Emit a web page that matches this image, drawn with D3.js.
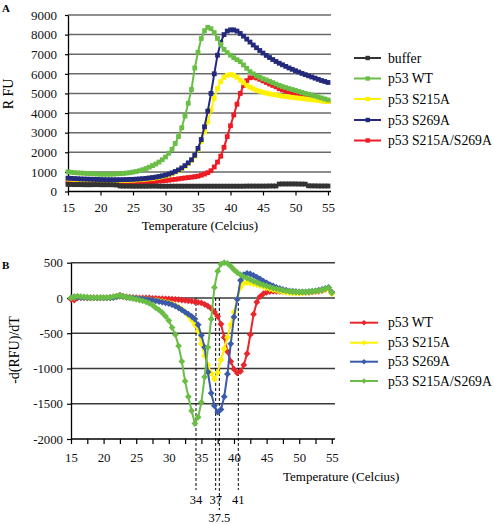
<!DOCTYPE html>
<html><head><meta charset="utf-8">
<script src="https://cdn.jsdelivr.net/npm/d3@7"></script>
<style>body{margin:0;background:#fff}svg{display:block;font-family:"Liberation Serif","Times New Roman",serif}</style>
</head><body><svg id="c" width="494" height="524"></svg>
<script>
// ---------- shared temperature categories ----------
const temps = [15,15.5,16,16.5,17,17.5,18,18.5,19,19.5,20,20.5,21,21.5,22,22.5,23,23.5,24,24.5,
25,25.5,26,26.5,27,27.5,28,28.5,29,29.5,30,30.5,31,31.5,32,32.5,33,33.5,34,34.5,
35,35.5,36,36.5,37,37.5,38,38.5,39,39.5,40,40.5,41,41.5,42,42.5,43,43.5,44,44.5,
45,45.5,46,46.5,47,47.5,48,48.5,49,49.5,50,50.5,51,51.5,52,52.5,53,53.5,54,54.5,55];

// ---------- panel A : RFU ----------
const aNames = ["buffer","p53 WT","p53 S215A","p53 S269A","p53 S215A/S269A"];
const aBuffer = [360,355,350,350,350,345,345,345,350,350,345,345,345,345,340,330,280,275,275,275,
270,270,270,270,270,275,275,275,270,270,270,270,270,270,270,270,270,270,270,270,
270,270,270,270,270,270,270,270,270,270,270,270,270,270,270,275,275,275,275,275,
275,275,280,280,280,380,385,385,385,385,385,380,380,375,290,285,285,280,280,280,280];
const aWT = [1000,980,960,950,940,930,920,910,900,890,880,880,880,880,890,900,910,920,940,960,
990,1020,1060,1110,1170,1240,1320,1400,1500,1620,1760,1950,2150,2450,2800,3250,3850,4500,5200,6300,
7100,7800,8200,8370,8300,8100,7800,7500,7250,7080,6950,6820,6720,6620,6450,6280,6110,6000,5900,5820,
5750,5690,5620,5550,5480,5410,5350,5300,5250,5200,5150,5100,5050,5000,4960,4920,4870,4820,4770,4720,4670];
const aS215A = [640,630,620,610,600,595,590,585,580,575,570,565,560,560,560,560,560,565,570,575,
580,590,600,615,630,650,670,695,725,760,800,850,910,990,1060,1160,1280,1420,1580,1800,
2150,2550,3050,3550,4150,4750,5250,5600,5820,5930,5960,5930,5820,5680,5540,5420,5320,5240,5170,5110,
5060,5020,4980,4950,4920,4890,4860,4840,4820,4800,4780,4760,4740,4720,4700,4680,4660,4640,4620,4600,4580];
const aS269A = [680,670,660,650,640,635,630,625,620,615,610,605,600,600,600,600,600,605,610,615,
620,630,640,655,670,690,710,735,765,800,840,890,950,1020,1100,1200,1320,1460,1620,1850,
2200,2650,3300,4100,5000,6000,6950,7600,8000,8180,8240,8240,8180,8060,7920,7770,7620,7470,7330,7190,
7060,6940,6830,6730,6630,6540,6460,6380,6300,6230,6160,6090,6020,5960,5900,5840,5780,5720,5660,5610,5560];
const aDouble = [470,465,460,455,450,450,445,440,440,435,435,430,430,430,430,430,430,435,440,445,
450,455,460,470,480,490,500,515,530,545,560,580,600,620,645,670,690,710,730,755,
780,830,890,960,1060,1250,1500,1800,2250,2800,3350,3900,4450,5000,5400,5650,5800,5830,5790,5720,
5640,5560,5480,5410,5340,5240,5180,5130,5080,5030,4990,4950,4900,4860,4820,4780,4740,4700,4660,4620,4590];
const aColors = ["#333333","#6abd45","#fff200","#232a7c","#ed1c24"];
const aTicksY = [0,1000,2000,3000,4000,5000,6000,7000,8000,9000];
const aTicksX = [15,20,25,30,35,40,45,50,55];

// ---------- panel B : -d(RFU)/dT ----------
const bNames = ["p53 WT","p53 S215A","p53 S269A","p53 S215A/S269A"];
const bWT = [-20,-30,0,5,5,0,0,0,0,0,0,0,5,10,20,40,25,15,10,5,
5,0,0,0,0,-5,-5,-10,-10,-12,-15,-18,-20,-25,-30,-35,-40,-45,-55,-62,
-70,-90,-115,-150,-200,-260,-370,-560,-760,-900,-1010,-1065,-1040,-950,-790,-520,-230,-60,20,60,
80,90,95,95,95,95,90,90,85,85,80,80,80,80,85,90,95,105,120,140,80];
const bS215A = [0,10,15,10,5,0,0,0,0,0,0,0,0,5,15,20,15,10,5,0,
-5,-10,-15,-20,-25,-30,-35,-40,-50,-60,-70,-85,-105,-130,-160,-200,-250,-310,-380,-470,
-650,-820,-950,-1070,-1150,-1060,-880,-720,-560,-380,-200,-20,150,210,220,210,200,190,175,160,
145,130,120,110,100,90,80,75,70,70,70,70,75,80,85,90,100,110,120,130,60];
const bS269A = [0,15,10,5,5,0,0,0,0,0,0,0,0,5,15,25,20,10,5,0,
-5,-10,-15,-20,-25,-30,-40,-50,-60,-70,-80,-95,-115,-140,-170,-200,-230,-260,-300,-380,
-530,-700,-1050,-1350,-1530,-1620,-1580,-1400,-1080,-650,-270,-20,250,330,350,340,320,295,270,240,
215,190,170,150,135,120,110,100,95,90,85,85,85,90,95,100,110,120,135,150,80];
const bDouble = [0,20,25,20,15,10,5,5,5,5,5,5,10,20,30,35,25,10,0,-10,
-20,-30,-40,-55,-75,-100,-140,-170,-210,-260,-320,-420,-520,-680,-900,-1180,-1400,-1600,-1780,-1690,
-1480,-1120,-700,-300,150,380,480,500,490,450,400,360,330,300,280,260,240,220,200,185,
170,155,140,130,120,110,100,95,90,85,85,85,85,90,95,100,105,115,130,145,75];
const bColors = ["#e8262b","#fff200","#3a5ba9","#6abd45"];
const bTicksY = [-2000,-1500,-1000,-500,0,500];
const bTicksX = [15,17.5,20,22.5,25,27.5,30,32.5,35,37.5,40,42.5,45,47.5,50,52.5,55];
const bMarkPos = [34.17,37.19,37.75,40.66];
const bMarkLabels = ["34","37","37.5","41"];

// ---------- drawing ----------
const svg = d3.select("#c");
const plain = d => String(d);

// Panel A scales
const xA = d3.scaleLinear().domain([15,55]).range([68,328]);
const yA = d3.scaleLinear().domain([0,9000]).range([191.5,15]);

const gA = svg.append("g");
gA.selectAll("line.grid").data(aTicksY.filter(d=>d>0)).join("line")
  .attr("x1",68).attr("x2",331).attr("y1",d=>yA(d)).attr("y2",d=>yA(d))
  .attr("stroke","#6a6a6a").attr("stroke-width",1.5);

const axYA = gA.append("g").attr("transform","translate(68,0)")
  .call(d3.axisLeft(yA).tickValues(aTicksY).tickFormat(plain).tickSize(3).tickSizeOuter(0).tickPadding(8));
const axXA = gA.append("g").attr("transform","translate(0,191.5)")
  .call(d3.axisBottom(xA).tickValues(aTicksX).tickFormat(plain).tickSize(4).tickSizeOuter(0).tickPadding(7));
[axYA,axXA].forEach(a=>{
  a.attr("font-family",null);
  a.select(".domain").attr("stroke","#000").attr("stroke-width",1.3);
  a.selectAll(".tick line").attr("stroke","#000").attr("stroke-width",1.2);
  a.selectAll("text").attr("font-size",13).attr("fill","#111");
});
axXA.select(".domain").attr("d","M68,0H331");

const aSeries = [aBuffer,aWT,aS215A,aS269A,aDouble];
const aOrder = [4,2,3,1,0];
const lineA = d3.line().x((d,i)=>xA(temps[i])).y(d=>yA(d));
aOrder.forEach(k=>{
  const g = gA.append("g");
  g.append("path").attr("d",lineA(aSeries[k])).attr("fill","none")
    .attr("stroke",aColors[k]).attr("stroke-width",2);
  g.selectAll("rect").data(aSeries[k]).join("rect")
    .attr("x",(d,i)=>xA(temps[i])-2.4).attr("y",d=>yA(d)-2.4)
    .attr("width",4.8).attr("height",4.8).attr("fill",aColors[k]);
});

gA.append("text").attr("x",2).attr("y",11.7).attr("font-size",11).attr("font-weight","bold").text("A");
gA.append("text").attr("transform","translate(13,94) rotate(-90)").attr("text-anchor","middle")
  .attr("font-size",14).text("R FU");
gA.append("text").attr("x",200).attr("y",230).attr("text-anchor","middle").attr("font-size",13).text("Temperature (Celcius)");

const legA = gA.append("g");
const legAY = [58,78.5,99,120,140.5];
aNames.forEach((n,k)=>{
  const y = legAY[k];
  legA.append("line").attr("x1",354).attr("x2",381).attr("y1",y).attr("y2",y)
    .attr("stroke",aColors[k]).attr("stroke-width",2);
  legA.append("rect").attr("x",365.5).attr("y",y-2.2).attr("width",4.4).attr("height",4.4).attr("fill",aColors[k]);
  legA.append("text").attr("x",388).attr("y",y+4.6).attr("font-size",13.7).text(n);
});

// Panel B scales
const xB = d3.scaleLinear().domain([15,55]).range([71,331.8]);
const yB = d3.scaleLinear().domain([-2000,500]).range([439,262.7]);
const gB = svg.append("g");
gB.selectAll("line.grid").data(bTicksY.filter(d=>d>-2000)).join("line")
  .attr("x1",71).attr("x2",335).attr("y1",d=>yB(d)).attr("y2",d=>yB(d))
  .attr("stroke","#3a3a3a").attr("stroke-width",1.4);

const axYB = gB.append("g").attr("transform","translate(71,0)")
  .call(d3.axisLeft(yB).tickValues(bTicksY).tickFormat(plain).tickSize(4).tickSizeOuter(0).tickPadding(4));
const axXB = gB.append("g").attr("transform","translate(0,439)")
  .call(d3.axisBottom(xB).tickValues(bTicksX).tickSize(5).tickSizeOuter(0).tickPadding(9)
    .tickFormat(d=> d%5===0 ? String(d) : ""));
[axYB,axXB].forEach(a=>{
  a.attr("font-family",null);
  a.select(".domain").attr("stroke","#000").attr("stroke-width",1.3);
  a.selectAll(".tick line").attr("stroke","#000").attr("stroke-width",1.2);
  a.selectAll("text").attr("font-size",12.8).attr("fill","#111");
});
axXB.select(".domain").attr("d","M71,0H335");

// dashed reference lines
bMarkPos.forEach((p,i)=>{
  gB.append("line").attr("x1",xB(p)).attr("x2",xB(p)).attr("y1",yB(0))
    .attr("y2", i===2 ? 510 : 490).attr("stroke","#000").attr("stroke-width",1)
    .attr("stroke-dasharray","3,2");
});

const bSeries = [bWT,bS215A,bS269A,bDouble];
const bOrder = [0,1,2,3];
const lineB = d3.line().x((d,i)=>xB(temps[i])).y(d=>yB(d));
const diamond = r => `M0,${-r}L${r},0L0,${r}L${-r},0Z`;
bOrder.forEach(k=>{
  const g = gB.append("g");
  g.append("path").attr("d",lineB(bSeries[k])).attr("fill","none")
    .attr("stroke",bColors[k]).attr("stroke-width",2);
  g.selectAll("path.m").data(bSeries[k]).join("path").attr("class","m")
    .attr("transform",(d,i)=>`translate(${xB(temps[i])},${yB(d)})`)
    .attr("d",diamond(3.4)).attr("fill",bColors[k]);
});

bMarkPos.forEach((p,i)=>{
  gB.append("text").attr("x",xB(p)).attr("y", i===2 ? 522 : 503.5).attr("text-anchor","middle")
    .attr("font-size",12.5).text(bMarkLabels[i]);
});

gB.append("text").attr("x",2).attr("y",268.5).attr("font-size",11).attr("font-weight","bold").text("B");
gB.append("text").attr("transform","translate(18.5,350) rotate(-90)").attr("text-anchor","middle")
  .attr("font-size",14).text("-d(RFU)/dT");
gB.append("text").attr("x",283).attr("y",481).attr("font-size",13).text("Temperature (Celcius)");

const legB = gB.append("g");
const legBY = [322.7,342.7,361.7,381];
bNames.forEach((n,k)=>{
  const y = legBY[k];
  legB.append("line").attr("x1",350).attr("x2",378).attr("y1",y).attr("y2",y)
    .attr("stroke",bColors[k]).attr("stroke-width",2);
  legB.append("path").attr("transform",`translate(364,${y})`).attr("d",diamond(2.8)).attr("fill",bColors[k]);
  legB.append("text").attr("x",388).attr("y",y+4.6).attr("font-size",13.7).text(n);
});
</script></body></html>
